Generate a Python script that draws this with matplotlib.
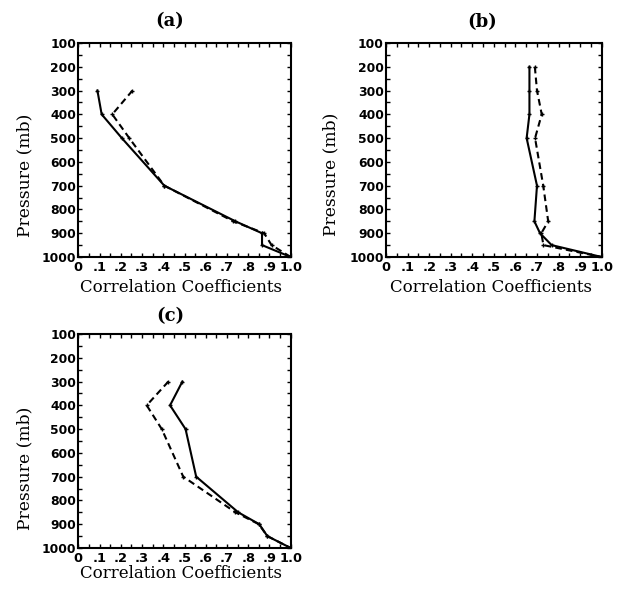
import matplotlib
matplotlib.use("Agg")
import matplotlib.pyplot as plt
from matplotlib.ticker import MultipleLocator, FixedLocator

# ---- data ----
levels_a = [300, 400, 500, 700, 850, 900, 950, 1000]
solid_a = [0.09, 0.11, 0.205, 0.405, 0.74, 0.865, 0.865, 1.0]
dashed_a = [0.255, 0.16, 0.24, 0.405, 0.73, 0.875, 0.91, 1.0]

levels_b = [200, 300, 400, 500, 700, 850, 900, 950, 1000]
solid_b = [0.665, 0.665, 0.665, 0.652, 0.70, 0.688, 0.714, 0.768, 1.0]
dashed_b = [0.69, 0.70, 0.722, 0.691, 0.729, 0.752, 0.72, 0.73, 1.0]

levels_c = [300, 400, 500, 700, 850, 900, 950, 1000]
solid_c = [0.49, 0.432, 0.505, 0.555, 0.753, 0.852, 0.89, 1.0]
dashed_c = [0.424, 0.322, 0.393, 0.494, 0.74, 0.85, 0.89, 1.0]

panel_titles = ["(a)", "(b)", "(c)"]
xtick_vals = [0, .1, .2, .3, .4, .5, .6, .7, .8, .9, 1.0]
xtick_labels = ["0", ".1", ".2", ".3", ".4", ".5", ".6", ".7", ".8", ".9", "1.0"]
ytick_vals = [100, 200, 300, 400, 500, 600, 700, 800, 900, 1000]
ytick_labels = [str(v) for v in ytick_vals]
xlabel = "Correlation Coefficients"
ylabel = "Pressure (mb)"

W, H = 620, 591
fig = plt.figure(figsize=(W / 100, H / 100), dpi=100)

def rect(l, r, t, b):
    return [l / W, 1 - b / H, (r - l) / W, (b - t) / H]

axes_px = [(78.3, 290.7, 43, 257), (386, 601.7, 43, 257), (78.3, 290.7, 334, 548)]
title_px = [(170, 21), (482, 22), (170, 316)]
xlab_py = [288, 288, 573]
ylab_px = [(25, 175), (331, 174), (25, 468)]

data = [(levels_a, solid_a, dashed_a), (levels_b, solid_b, dashed_b), (levels_c, solid_c, dashed_c)]

serif = "DejaVu Serif"
ytickfont = dict(family="DejaVu Sans", weight="bold", size=8.9)
xtickfont = dict(family="DejaVu Sans", weight="bold", size=9.4)

for i, (lv, s, d) in enumerate(data):
    l, r, t, b = axes_px[i]
    ax = fig.add_axes(rect(l, r, t, b))
    ax.plot(s, lv, color="black", lw=1.5, ls="-", marker="+", ms=3.5, mew=1)
    ax.plot(d, lv, color="black", lw=1.5, ls=(0, (3.2, 2.0)), marker="+", ms=3.5, mew=1)
    ax.set_xlim(0, 1.0)
    ax.set_ylim(1000, 100)
    ax.xaxis.set_major_locator(FixedLocator(xtick_vals))
    ax.set_xticklabels(xtick_labels, fontdict=xtickfont)
    ax.xaxis.set_minor_locator(MultipleLocator(0.05))
    ax.yaxis.set_major_locator(FixedLocator(ytick_vals))
    ax.set_yticklabels(ytick_labels, fontdict=ytickfont)
    ax.yaxis.set_minor_locator(MultipleLocator(50))
    ax.tick_params(which="both", direction="in", top=True, right=True,
                   length=3, width=1.0, color="black")
    ax.tick_params(axis="x", pad=3)
    ax.tick_params(axis="y", pad=1.5)
    for sp in ax.spines.values():
        sp.set_linewidth(1.5)
    ax.set_xlabel(xlabel, family=serif, fontsize=12)
    ax.xaxis.set_label_coords(((r + l) / 2 - 3 - l) / (r - l), (b - xlab_py[i]) / (b - t))
    ax.xaxis.label.set_va("center")
    ax.set_ylabel(ylabel, family=serif, fontsize=12.3)
    ax.yaxis.set_label_coords((ylab_px[i][0] - l) / (r - l), (b - ylab_px[i][1]) / (b - t))
    ax.yaxis.label.set_va("center")
    tx, ty = title_px[i]
    fig.text(tx / W, 1 - ty / H, panel_titles[i], family=serif, weight="bold",
             fontsize=13, ha="center", va="center")

fig.savefig("out.png", dpi=100)
